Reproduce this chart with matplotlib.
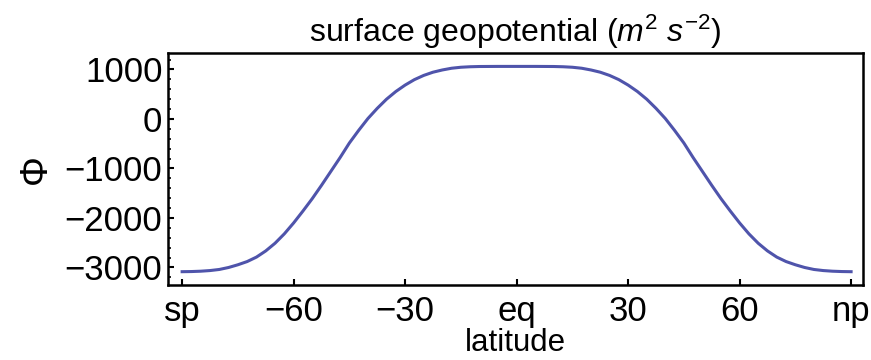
import matplotlib
matplotlib.use("Agg")
import matplotlib.pyplot as plt
from matplotlib.ticker import MultipleLocator

# latitude (deg) and surface geopotential (m^2 s^-2)
lat = [-90, -87.5, -85, -82.5, -80, -77.5, -75, -72.5, -70, -67.5, -65, -62.5,
       -60, -57.5, -55, -52.5, -50, -47.5, -45, -42.5, -40, -37.5, -35, -32.5,
       -30, -27.5, -25, -22.5, -20, -17.5, -15, -12.5, -10, -7.5, -5, -2.5,
       0, 2.5, 5, 7.5, 10, 12.5, 15, 17.5, 20, 22.5, 25, 27.5,
       30, 32.5, 35, 37.5, 40, 42.5, 45, 47.5, 50, 52.5, 55, 57.5,
       60, 62.5, 65, 67.5, 70, 72.5, 75, 77.5, 80, 82.5, 85, 87.5, 90]
phi = [-3085, -3082, -3075, -3062, -3040, -3000, -2945, -2880, -2790, -2665, -2510, -2320,
       -2100, -1860, -1610, -1340, -1060, -780, -485, -230, 10, 215, 400, 555,
       685, 795, 880, 945, 990, 1025, 1045, 1055, 1060, 1061, 1062, 1062,
       1062, 1062, 1062, 1061, 1060, 1055, 1045, 1025, 990, 945, 880, 795,
       685, 555, 400, 215, 10, -230, -485, -780, -1060, -1340, -1610, -1860,
       -2100, -2320, -2510, -2665, -2790, -2880, -2945, -3000, -3040, -3062, -3075, -3082, -3085]

xticks = [-90, -60, -30, 0, 30, 60, 90]
xticklabels = ["sp", "\u221260", "\u221230", "eq", "30", "60", "np"]
yticks = [1000, 0, -1000, -2000, -3000]
yticklabels = ["1000", "0", "\u22121000", "\u22122000", "\u22123000"]

plt.rcParams['font.family'] = ['Liberation Sans', 'DejaVu Sans']
plt.rcParams['mathtext.fontset'] = 'custom'
plt.rcParams['mathtext.rm'] = 'Liberation Sans'
plt.rcParams['mathtext.it'] = 'Liberation Sans:italic'

fig = plt.figure(figsize=(8.71, 3.6), dpi=100)
ax = fig.add_axes([0.1929, 0.2083, 0.7979, 0.6445])

ax.plot(lat, phi, color="#4f54ab", lw=2.2)

ax.set_xlim(-93.8, 93.2)
ax.set_ylim(-3354, 1333)

ax.set_xticks(xticks)
ax.set_xticklabels(xticklabels)
ax.set_yticks(yticks)
ax.set_yticklabels(yticklabels)
ax.yaxis.set_minor_locator(MultipleLocator(200))

ax.tick_params(axis="both", which="major", direction="in", length=4, width=1.5,
               labelsize=25, pad=4, top=False, right=False)
ax.tick_params(axis="x", which="major", pad=7)
ax.tick_params(axis="y", which="minor", direction="in", length=2, width=1.2, right=False)

for s in ax.spines.values():
    s.set_linewidth(1.8)

ax.set_title(r"surface geopotential ($m^2$ $s^{-2}$)", fontsize=23, pad=8)
ax.set_xlabel("latitude", fontsize=22.5, labelpad=0)
ax.set_ylabel("\u03a6", fontsize=27, labelpad=8)

fig.savefig("out.png", dpi=100)
